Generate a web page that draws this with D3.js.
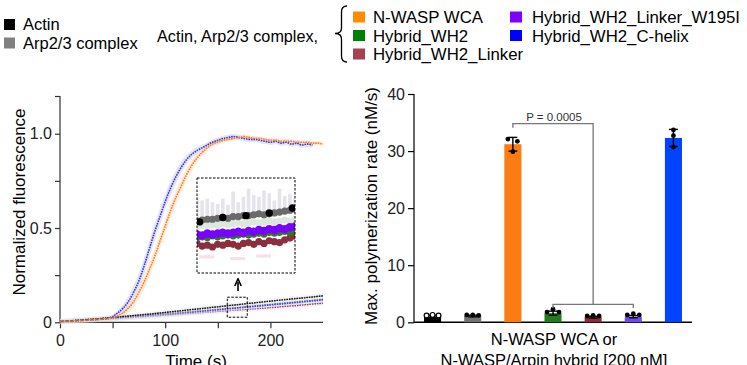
<!DOCTYPE html>
<html><head><meta charset="utf-8">
<script src="https://cdn.jsdelivr.net/npm/d3@7"></script>
<style>body{margin:0;background:#fff}svg{font-family:"Liberation Sans",Arial,sans-serif}</style>
</head><body><svg id="c" width="747" height="365"></svg>
<script>
// ---------- data ----------
const time=[0,5,10,15,20,25,30,35,40,45,50,55,60,65,70,75,80,85,90,95,100,105,110,115,120,125,130,135,140,145,150,155,160,165,170,175,180,185,190,195,200,205,210,215,220,225,230,235,240,245,250];
const actinCurve=[0.004,0.006,0.008,0.010,0.012,0.014,0.016,0.018,0.021,0.023,0.026,0.028,0.031,0.033,0.036,0.038,0.041,0.043,0.046,0.049,0.052,0.055,0.058,0.061,0.064,0.067,0.070,0.073,0.076,0.079,0.082,0.085,0.088,0.091,0.094,0.097,0.100,0.103,0.106,0.109,0.112,0.115,0.118,0.120,0.123,0.126,0.128,0.131,0.134,0.137,0.140];
const arpCurve=[0.005,0.007,0.009,0.011,0.013,0.015,0.017,0.019,0.021,0.024,0.026,0.029,0.031,0.034,0.036,0.039,0.042,0.044,0.047,0.050,0.053,0.056,0.059,0.062,0.065,0.068,0.071,0.074,0.077,0.080,0.083,0.086,0.089,0.092,0.095,0.098,0.101,0.104,0.107,0.110,0.113,0.116,0.119,0.122,0.125,0.127,0.130,0.133,0.135,0.138,0.141];
const wh2Curve=[0.004,0.006,0.007,0.009,0.011,0.013,0.015,0.017,0.019,0.021,0.023,0.025,0.027,0.029,0.031,0.033,0.035,0.037,0.039,0.041,0.044,0.046,0.049,0.051,0.054,0.056,0.059,0.061,0.064,0.066,0.069,0.071,0.074,0.076,0.079,0.082,0.084,0.087,0.090,0.092,0.095,0.098,0.101,0.103,0.106,0.109,0.112,0.114,0.117,0.120,0.123];
const linkerCurve=[0.003,0.004,0.005,0.007,0.008,0.010,0.011,0.013,0.015,0.016,0.018,0.020,0.022,0.024,0.026,0.028,0.030,0.032,0.034,0.036,0.038,0.040,0.042,0.044,0.046,0.048,0.050,0.052,0.054,0.056,0.058,0.060,0.062,0.064,0.066,0.068,0.070,0.072,0.074,0.076,0.078,0.080,0.083,0.085,0.087,0.089,0.092,0.094,0.097,0.099,0.102];
const w195iCurve=[0.004,0.006,0.008,0.009,0.011,0.013,0.015,0.017,0.019,0.021,0.023,0.025,0.027,0.029,0.031,0.033,0.035,0.037,0.040,0.042,0.044,0.046,0.048,0.051,0.053,0.055,0.058,0.060,0.062,0.065,0.067,0.070,0.072,0.075,0.077,0.080,0.082,0.085,0.087,0.090,0.092,0.095,0.097,0.100,0.103,0.105,0.108,0.111,0.113,0.116,0.119];
const nwaspCurve=[0.004,0.006,0.007,0.008,0.010,0.011,0.013,0.015,0.017,0.020,0.025,0.035,0.050,0.075,0.110,0.160,0.215,0.280,0.350,0.430,0.510,0.590,0.660,0.720,0.780,0.830,0.870,0.900,0.925,0.945,0.955,0.965,0.970,0.975,0.980,0.985,0.980,0.975,0.975,0.970,0.965,0.965,0.960,0.960,0.960,0.955,0.955,0.955,0.950,0.950,0.945];
const nwaspSd=[0.005,0.005,0.005,0.005,0.005,0.005,0.005,0.005,0.005,0.005,0.008,0.012,0.018,0.025,0.030,0.035,0.040,0.040,0.040,0.040,0.040,0.040,0.040,0.035,0.030,0.030,0.025,0.020,0.020,0.015,0.015,0.012,0.012,0.012,0.012,0.012,0.012,0.012,0.012,0.012,0.012,0.012,0.012,0.012,0.012,0.012,0.012,0.012,0.012,0.012,0.012];
const chelixCurve=[0.004,0.006,0.007,0.008,0.010,0.011,0.013,0.015,0.017,0.020,0.030,0.050,0.075,0.110,0.160,0.220,0.300,0.390,0.480,0.560,0.640,0.710,0.770,0.820,0.860,0.890,0.910,0.925,0.940,0.955,0.965,0.975,0.980,0.985,0.980,0.975,0.970,0.970,0.965,0.960,0.955,0.960,0.950,0.955,0.945,0.950,0.940,0.945,0.940,null,null];
const chelixSd=[0.005,0.005,0.005,0.005,0.005,0.005,0.005,0.005,0.005,0.006,0.010,0.015,0.022,0.030,0.035,0.040,0.045,0.045,0.045,0.045,0.040,0.040,0.035,0.030,0.025,0.020,0.020,0.018,0.015,0.015,0.015,0.015,0.015,0.015,0.015,0.015,0.015,0.015,0.015,0.015,0.015,0.015,0.015,0.015,0.015,0.015,0.015,0.015,0.015,null,null];

// inset (zoomed window t 159-178 s)
const insetT=[159,160,161,162,163,164,165,166,167,168,169,170,171,172,173,174,175,176,177,178];
const insetArp=[0.085,0.086,0.087,0.087,0.088,0.089,0.088,0.090,0.090,0.091,0.091,0.092,0.093,0.092,0.093,0.094,0.095,0.096,0.097,0.098];
const insetArpUpper=[0.112,0.108,0.110,0.106,0.104,0.110,0.103,0.118,0.106,0.112,0.121,0.114,0.112,0.119,0.116,0.108,0.121,0.113,0.115,0.110];
const insetActinT=[159.5,164,168.5,173,177.5];
const insetActin=[0.084,0.089,0.091,0.094,0.0995];
const insetPale=[0.079,0.080,0.080,0.081,0.080,0.082,0.081,0.082,0.083,0.082,0.083,0.084,0.083,0.084,0.085,0.084,0.085,0.086,0.085,0.087];
const insetWH2=[0.066,0.067,0.066,0.068,0.067,0.068,0.069,0.068,0.069,0.070,0.069,0.070,0.071,0.070,0.072,0.071,0.072,0.073,0.072,0.074];
const insetW195I=[0.070,0.069,0.071,0.070,0.071,0.072,0.071,0.072,0.073,0.072,0.074,0.073,0.075,0.074,0.076,0.075,0.077,0.076,0.078,0.079];
const insetLinker=[0.060,0.057,0.058,0.056,0.059,0.058,0.060,0.059,0.057,0.060,0.061,0.059,0.062,0.060,0.063,0.062,0.061,0.064,0.066,0.068];
const insetPinkT=[160,161,166,167,171,172];
const insetPink=[0.045,0.045,0.043,0.043,0.046,0.046];

// bar chart
const barCats=["Actin","Arp2/3 complex","N-WASP WCA","Hybrid_WH2","Hybrid_WH2_Linker","Hybrid_WH2_Linker_W195I","Hybrid_WH2_C-helix"];
const barMeans=[1.0,1.1,31.2,1.6,0.9,1.0,32.3];
const barSd=[0.2,0.15,1.2,0.35,0.15,0.2,1.5];
const barPoints=[[1.2,1.3,1.2],[1.3,1.3,1.2],[32.1,29.9,31.7],[1.8,2.3,1.8],[1.1,1.2,1.1],[1.3,1.5,1.3],[33.7,32.7,30.7]];
const pText="P = 0.0005";

const legendLeft=["Actin","Arp2/3 complex"];
const legendMid="Actin, Arp2/3 complex,";
const legendRight1=["N-WASP WCA","Hybrid_WH2","Hybrid_WH2_Linker"];
const legendRight2=["Hybrid_WH2_Linker_W195I","Hybrid_WH2_C-helix"];

// ---------- drawing ----------
const svg=d3.select("#c");
const F=16;

// Legend
const legCol={"Actin":"#000","Arp2/3 complex":"#808080","N-WASP WCA":"#ff8c00","Hybrid_WH2":"#008000","Hybrid_WH2_Linker":"#a3434f","Hybrid_WH2_Linker_W195I":"#8000ff","Hybrid_WH2_C-helix":"#0000ff"};
legendLeft.forEach((t,i)=>{
  svg.append("rect").attr("x",4).attr("y",19+i*18.5).attr("width",11).attr("height",11).attr("fill",legCol[t]);
  svg.append("text").attr("x",23).attr("y",30+i*18.5).attr("font-size",16.5).text(t);
});
svg.append("text").attr("x",157).attr("y",42).attr("font-size",16.2).text(legendMid);
svg.append("path").attr("d","M347,6 Q341.5,6 341.5,12 L341.5,28 Q341.5,33.5 335,33.5 Q341.5,33.5 341.5,39 L341.5,56 Q341.5,62 347,62")
  .attr("fill","none").attr("stroke","#000").attr("stroke-width",1.3);
legendRight1.forEach((t,i)=>{
  svg.append("rect").attr("x",353).attr("y",11.5+i*18.5).attr("width",12).attr("height",11).attr("fill",legCol[t]);
  svg.append("text").attr("x",373).attr("y",23+i*18.5).attr("font-size",16.8).text(t);
});
legendRight2.forEach((t,i)=>{
  svg.append("rect").attr("x",510).attr("y",11.5+i*18.5).attr("width",12).attr("height",11).attr("fill",legCol[t]);
  svg.append("text").attr("x",532).attr("y",23+i*18.5).attr("font-size",16.8).text(t);
});

// ---- left chart ----
const x=d3.scaleLinear().domain([0,250]).range([60,323]);
const y=d3.scaleLinear().domain([0,1.2]).range([322.3,96]);
const L=svg.append("g");
const axCol="#333";
const xa=L.append("g").attr("transform","translate(0,322.3)").call(d3.axisBottom(x).tickValues([0,50,100,150,200]).tickSize(6).tickFormat(d=>d%100===0?d:""));
const ya=L.append("g").attr("transform","translate(60,0)").call(d3.axisLeft(y).tickValues([0,0.25,0.5,0.75,1.0,1.2]).tickSize(5).tickFormat(d=>d===0?"0":(d===0.5||d===1)?d3.format(".1f")(d):""));
[xa,ya].forEach(a=>{a.selectAll("path,line").attr("stroke",axCol).attr("stroke-width",1.2);a.selectAll("text").attr("font-size",F).attr("fill","#222").attr("font-family","Liberation Sans,Arial,sans-serif");});
xa.select(".domain").attr("d","M60,0H323");
ya.select(".domain").attr("d","M0,322.3V96");
xa.selectAll("text").attr("dy","0.9em");
L.append("text").attr("x",196).attr("y",367).attr("text-anchor","middle").attr("font-size",17).text("Time (s)");
L.append("text").attr("transform","translate(25,202) rotate(-90)").attr("text-anchor","middle").attr("font-size",17).text("Normalized fluorescence");

const idx=time.map((t,i)=>i);
function band(vals,sd,col){
  const a=d3.area().defined(i=>vals[i]!=null).x(i=>x(time[i])).y0(i=>y(vals[i]-sd[i])).y1(i=>y(vals[i]+sd[i])).curve(d3.curveMonotoneX);
  L.append("path").attr("d",a(idx)).attr("fill",col).attr("opacity",0.6);
}
function curve(vals,col,w,under){
  const ln=d3.line().defined(i=>vals[i]!=null).x(i=>x(time[i])).y(i=>y(vals[i])).curve(d3.curveMonotoneX);
  if(under) L.append("path").attr("d",ln(idx)).attr("fill","none").attr("stroke",under).attr("stroke-width",5).attr("opacity",0.35);
  L.append("path").attr("d",ln(idx)).attr("fill","none").attr("stroke",col).attr("stroke-width",w).attr("stroke-dasharray","1.6 0.9");
}
band(nwaspCurve,nwaspSd,"#fde0c8");
band(chelixCurve,chelixSd,"#d4d4f4");
curve(linkerCurve,"#8b3a48",1.4,"#e0d0d4");
curve(wh2Curve,"#2e8b2e",1.4,"#d8e8d8");
curve(w195iCurve,"#4a3ae6",1.6,"#dcdcf0");
curve(arpCurve,"#777",1.4,"#e6e6e6");
curve(actinCurve,"#111",1.2,null);
curve(chelixCurve,"#3636c8",1.6,null);
curve(nwaspCurve,"#ff7a12",1.6,null);

// small dashed box + arrow
L.append("rect").attr("x",x(159)).attr("y",y(0.133)).attr("width",x(178)-x(159)).attr("height",y(0.027)-y(0.133))
  .attr("fill","none").attr("stroke","#000").attr("stroke-width",1).attr("stroke-dasharray","2.5 1.5");
svg.append("defs").append("marker").attr("id","ah").attr("viewBox","0 0 10 10").attr("refX",5).attr("refY",5)
  .attr("markerWidth",5).attr("markerHeight",5).attr("orient","auto").append("path").attr("d","M0,1 L9,5 L0,9").attr("fill","none").attr("stroke","#000").attr("stroke-width",2);
L.append("line").attr("x1",238).attr("x2",238).attr("y1",291).attr("y2",282).attr("stroke","#000").attr("stroke-width",1.6).attr("marker-end","url(#ah)");

// inset
const ix=d3.scaleLinear().domain([159,178]).range([197,295]);
const iy=d3.scaleLinear().domain([0.027,0.133]).range([273,178]);
svg.append("clipPath").attr("id","ic").append("rect").attr("x",197).attr("y",178).attr("width",98).attr("height",95);
const I=svg.append("g");
I.append("rect").attr("x",197).attr("y",178).attr("width",98).attr("height",95).attr("fill","#fff");
const IG=I.append("g").attr("clip-path","url(#ic)");
insetT.forEach((t,i)=>{
  IG.append("rect").attr("x",ix(t)-1.8).attr("width",3.6).attr("y",iy(insetArpUpper[i])).attr("height",iy(insetArp[i])-iy(insetArpUpper[i])).attr("fill","#e4e4ea");
});
insetPinkT.forEach((t,i)=>{
  IG.append("rect").attr("x",ix(t)-3).attr("width",10).attr("y",iy(insetPink[i])-1.5).attr("height",3).attr("fill","#f4e2e6");
});
function idots(ts,vals,r,fill,op){
  ts.forEach((t,i)=>IG.append("circle").attr("cx",ix(t)).attr("cy",iy(vals[i])).attr("r",r).attr("fill",fill).attr("opacity",op||1));
}
idots(insetT,insetLinker,3.6,"#8b2f3f");
idots(insetT,insetPale,3.6,"#dde8dc");
idots(insetT,insetWH2,3.3,"#2a7a2a");
idots(insetT,insetW195I,4.2,"#7a00ff");
idots(insetT,insetArp,3.6,"#6a6a6a");
idots(insetActinT,insetActin,3.7,"#000");
I.append("rect").attr("x",197).attr("y",178).attr("width",98).attr("height",95)
  .attr("fill","none").attr("stroke","#000").attr("stroke-width",1).attr("stroke-dasharray","2.5 1.5");

// ---- right chart ----
const bx=d3.scaleBand().domain(barCats).range([414,692]).paddingInner(0.575).paddingOuter(0.25);
const by=d3.scaleLinear().domain([0,40]).range([322.3,94]);
const R=svg.append("g");
const barCol=["#000","#737373","#fa7c12","#1e7b1e","#8e2a3c","#6b4bf0","#0044ff"];
const yb=R.append("g").attr("transform","translate(414,0)").call(d3.axisLeft(by).tickValues([0,10,20,30,40]).tickSize(6));
yb.selectAll("path,line").attr("stroke","#000").attr("stroke-width",1.2);
yb.select(".domain").attr("d","M0,322.3V94");
yb.selectAll("text").attr("font-size",F).attr("fill","#222").attr("font-family","Liberation Sans,Arial,sans-serif");
R.append("line").attr("x1",414).attr("x2",692).attr("y1",322.3).attr("y2",322.3).attr("stroke","#000").attr("stroke-width",1.4);
R.append("text").attr("transform","translate(377,206) rotate(-90)").attr("text-anchor","middle").attr("font-size",17).text("Max. polymerization rate (nM/s)");
R.append("text").attr("x",554).attr("y",345).attr("text-anchor","middle").attr("font-size",16.5).text("N-WASP WCA or");
R.append("text").attr("x",554).attr("y",366).attr("text-anchor","middle").attr("font-size",16.5).text("N-WASP/Arpin hybrid [200 nM]");

barCats.forEach((c,i)=>{
  const cx=bx(c)+bx.bandwidth()/2;
  R.append("rect").attr("x",bx(c)).attr("width",bx.bandwidth()).attr("y",by(barMeans[i])).attr("height",by(0)-by(barMeans[i])).attr("fill",barCol[i]);
  const hi=by(barMeans[i]+barSd[i]), lo=by(barMeans[i]-barSd[i]);
  R.append("line").attr("x1",cx).attr("x2",cx).attr("y1",hi).attr("y2",lo).attr("stroke","#000").attr("stroke-width",1.4);
  R.append("line").attr("x1",cx-4.5).attr("x2",cx+4.5).attr("y1",hi).attr("y2",hi).attr("stroke","#000").attr("stroke-width",1.4);
  R.append("line").attr("x1",cx-4.5).attr("x2",cx+4.5).attr("y1",lo).attr("y2",lo).attr("stroke","#000").attr("stroke-width",1.4);
  const big=barMeans[i]>10;
  const offs=i===6?[0,0,0]:(big?[-5,0,4.5]:[-6,0,6]);
  barPoints[i].forEach((v,k)=>{
    R.append("circle").attr("cx",cx+offs[k]).attr("cy",by(v)).attr("r",2.4)
      .attr("fill",i===0?"#fff":"#000").attr("stroke","#000").attr("stroke-width",i===0?1.2:0);
  });
});
// significance brackets
const cx=c=>bx(c)+bx.bandwidth()/2;
const bg="#777";
const xMid=cx(barCats[4]);
R.append("path").attr("d",`M${cx(barCats[2])},${by(34.1)} V${by(34.8)} H${xMid} V${by(3.15)}`).attr("fill","none").attr("stroke",bg).attr("stroke-width",1.3);
R.append("path").attr("d",`M${cx(barCats[3])},${by(2.5)} V${by(3.15)} H${cx(barCats[5])} V${by(2.5)}`).attr("fill","none").attr("stroke",bg).attr("stroke-width",1.3);
R.append("text").attr("x",554).attr("y",121).attr("text-anchor","middle").attr("font-size",11.5).attr("fill","#333").text(pText);
</script></body></html>
